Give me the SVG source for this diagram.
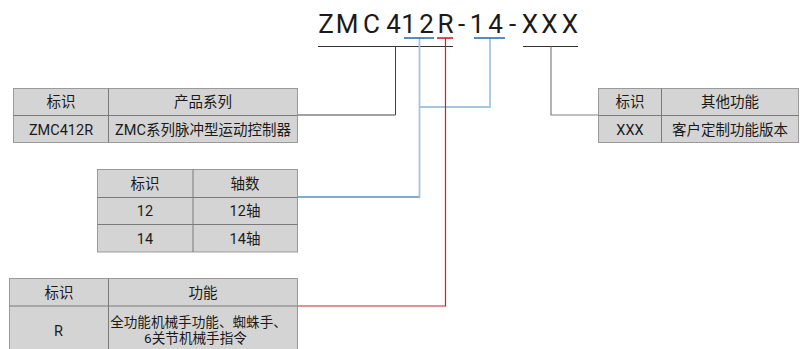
<svg xmlns="http://www.w3.org/2000/svg" width="800" height="349" viewBox="0 0 800 349">
<style>
.cell{fill:#d4d4d4;stroke:#9a9a9a;stroke-width:1}
.div{stroke:#7a7a7a;stroke-width:1;fill:none}
.t{font-family:Roboto,"Noto Sans CJK SC",sans-serif;font-size:14.5px;fill:#1a1a1a;text-anchor:middle}
.title{font-family:Roboto,"Noto Sans CJK SC",sans-serif;font-size:26px;fill:#1a1a1a;text-anchor:middle}
.ln{fill:none}
</style>
<rect width="800" height="349" fill="#ffffff"/>
<g id="title">
<text class="title" y="32.5" x="326 347 371.5 393.5 408.5 426.5 445.5 461.5 477 495.5 512.5 530 549.5 570">ZMC412R-14-XXX</text>
</g>
<g id="connectors" class="ln">
<line x1="318" y1="46.5" x2="453" y2="46.5" stroke="#333" stroke-width="1"/>
<line x1="523" y1="46.5" x2="578" y2="46.5" stroke="#333" stroke-width="1"/>
<polyline points="395.5,46.5 395.5,115 297,115" stroke="#444" stroke-width="1"/>
<polyline points="551,46.5 551,115 598,115" stroke="#808080" stroke-width="1.2"/>
<polyline points="419.5,38 419.5,197 297,197" stroke="#a6c6e0" stroke-width="1.8"/>
<line x1="297" y1="197" x2="419.5" y2="197" stroke="#5b93c4" stroke-width="1"/>
<polyline points="490,38 490,107 419.5,107" stroke="#a6c6e0" stroke-width="1.8"/>
<polyline points="445.5,38 445.5,306 297,306" stroke="#d0202e" stroke-width="1.2"/>
<line x1="404" y1="38" x2="434" y2="38" stroke="#2e6fae" stroke-width="1.6"/>
<line x1="437" y1="38" x2="453" y2="38" stroke="#d0202e" stroke-width="1.6"/>
<line x1="474" y1="38" x2="505" y2="38" stroke="#2e6fae" stroke-width="1.6"/>
</g>
<g id="product-table">
<rect class="cell" x="13.5" y="88.5" width="284" height="54"/>
<line class="div" x1="13.5" y1="115.5" x2="297.5" y2="115.5"/>
<line class="div" x1="108.5" y1="88.5" x2="108.5" y2="142.5"/>
<text class="t" x="61" y="107">标识</text>
<text class="t" x="203" y="107">产品系列</text>
<text class="t" x="61" y="134.5">ZMC412R</text>
<text class="t" x="203" y="134.5">ZMC系列脉冲型运动控制器</text>
</g>
<g id="other-table">
<rect class="cell" x="598.5" y="88.5" width="200" height="54"/>
<line class="div" x1="598.5" y1="115.5" x2="798.5" y2="115.5"/>
<line class="div" x1="661.5" y1="88.5" x2="661.5" y2="142.5"/>
<text class="t" x="630" y="107">标识</text>
<text class="t" x="730" y="107">其他功能</text>
<text class="t" x="630" y="134.5">XXX</text>
<text class="t" x="730" y="134.5">客户定制功能版本</text>
</g>
<g id="axis-table">
<rect class="cell" x="97.5" y="169.5" width="200" height="82.5"/>
<line class="div" x1="97.5" y1="197.5" x2="297.5" y2="197.5"/>
<line class="div" x1="97.5" y1="224.5" x2="297.5" y2="224.5"/>
<line class="div" x1="193" y1="169.5" x2="193" y2="252"/>
<text class="t" x="145" y="188.5">标识</text>
<text class="t" x="245" y="188.5">轴数</text>
<text class="t" x="145" y="216">12</text>
<text class="t" x="245" y="216">12轴</text>
<text class="t" x="145" y="243.5">14</text>
<text class="t" x="245" y="243.5">14轴</text>
</g>
<g id="function-table">
<rect class="cell" x="9.5" y="278.5" width="288" height="90"/>
<line class="div" x1="9.5" y1="306" x2="297.5" y2="306"/>
<line class="div" x1="108.5" y1="278.5" x2="108.5" y2="349"/>
<text class="t" x="59" y="297.5">标识</text>
<text class="t" x="203" y="297.5">功能</text>
<text class="t" x="58.5" y="335.5">R</text>
<text class="t" x="198.5" y="327" style="font-size:13.6px">全功能机械手功能、蜘蛛手、</text>
<text class="t" x="195.5" y="343" style="font-size:13.6px">6关节机械手指令</text>
</g>
</svg>
